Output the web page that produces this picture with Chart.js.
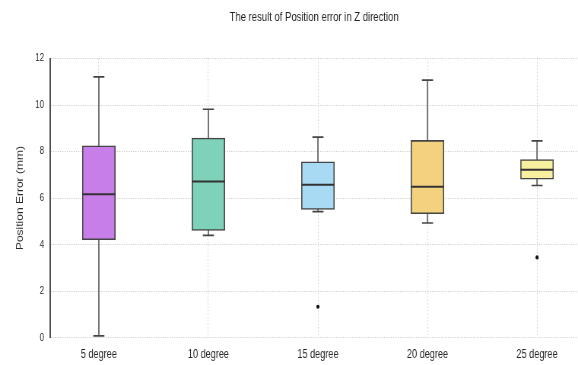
<!DOCTYPE html>
<html>
<head>
<meta charset="utf-8">
<script src="https://cdn.jsdelivr.net/npm/chart.js@4.4.1/dist/chart.umd.min.js"></script>
<style>
  html, body { margin: 0; padding: 0; background: #ffffff; }
  #wrap { width: 578px; height: 365px; overflow: hidden; }
</style>
</head>
<body>
<div id="wrap">
  <!-- drawn 760px wide, shown at 578px: condensed lettering and lines -->
  <canvas id="chart" width="760" height="365" style="width:578px;height:365px"></canvas>
</div>
<script>
// Position error (mm) per tilt angle: five-number summaries and outliers
const categories  = ['5 degree', '10 degree', '15 degree', '20 degree', '25 degree'];
const whiskerLow  = [0.08, 4.40, 5.42, 4.93, 6.54];
const quartile1   = [4.21, 4.61, 5.51, 5.33, 6.81];
const medianValue = [6.17, 6.71, 6.57, 6.49, 7.22];
const quartile3   = [8.25, 8.58, 7.56, 8.48, 7.66];
const whiskerHigh = [11.21, 9.82, 8.62, 11.07, 8.46];
const outliers    = [[], [], [1.33], [], [3.45]];
const yTicks      = { min: 0, max: 12, step: 2 };
const boxColors   = ['#c77ee8', '#7fd2ba', '#a8daf3', '#f3d17f', '#f7f09e'];

const pos = i => i + 1;

const boxData = categories.map((_, i) => ({ x: pos(i), y: [quartile1[i], quartile3[i]] }));
const whiskerData = [];
categories.forEach((_, i) => {
  whiskerData.push({ x: pos(i), y: whiskerLow[i] });
  whiskerData.push({ x: pos(i), y: whiskerHigh[i] });
  whiskerData.push({ x: pos(i), y: null });
});
const capData = [];
categories.forEach((_, i) => {
  capData.push({ x: pos(i), y: whiskerLow[i] });
  capData.push({ x: pos(i), y: whiskerHigh[i] });
});
const medianData = categories.map((_, i) => ({ x: pos(i), y: medianValue[i] }));
const outlierData = [];
outliers.forEach((list, i) => list.forEach(v => outlierData.push({ x: pos(i), y: v })));

const textFont = "'Liberation Sans', Arial, 'DejaVu Sans', sans-serif";

new Chart(document.getElementById('chart'), {
  type: 'bar',
  data: {
    datasets: [
      {
        type: 'line',
        data: whiskerData,
        borderColor: '#747474',
        borderWidth: 2,
        pointRadius: 0,
        spanGaps: false,
        order: 5
      },
      {
        type: 'bar',
        data: boxData,
        backgroundColor: boxColors,
        borderColor: '#454545',
        borderWidth: 1.6,
        borderSkipped: false,
        barThickness: 43.4,
        order: 4
      },
      {
        type: 'scatter',
        data: medianData,
        pointStyle: 'line',
        pointRadius: 21.7,
        borderColor: '#333333',
        borderWidth: 2,
        order: 3
      },
      {
        type: 'scatter',
        data: capData,
        pointStyle: 'line',
        pointRadius: 7.3,
        borderColor: '#444444',
        borderWidth: 1.6,
        order: 2
      },
      {
        type: 'scatter',
        data: outlierData,
        pointStyle: 'circle',
        pointRadius: 2.1,
        backgroundColor: '#111111',
        borderColor: '#111111',
        borderWidth: 0,
        order: 1
      }
    ]
  },
  options: {
    responsive: false,
    devicePixelRatio: 1,
    animation: false,
    events: [],
    layout: { padding: 0, autoPadding: false },
    plugins: {
      legend: { display: false },
      tooltip: { enabled: false },
      title: {
        display: true,
        fullSize: false,
        text: 'The result of Position error in Z direction',
        color: '#222222',
        font: { family: textFont, size: 12.5, weight: 'normal', lineHeight: 1.2 },
        padding: { top: 10, bottom: 33.5 }
      }
    },
    scales: {
      x: {
        type: 'linear',
        min: 0.556,
        max: 5.374,
        offset: false,
        afterFit: s => { s.height = 27.3; s.paddingLeft = 0; s.paddingRight = 0; },
        grid: { color: '#c8c8c8', lineWidth: 1, drawTicks: false, offset: false },
        border: { display: false, dash: [1.2, 2.2] },
        ticks: {
          stepSize: 1,
          includeBounds: false,
          autoSkip: false,
          maxRotation: 0,
          padding: 10,
          color: '#262626',
          font: { family: textFont, size: 12 },
          callback: v => categories[Math.round(v) - 1] ?? ''
        }
      },
      y: {
        min: yTicks.min,
        max: yTicks.max,
        afterFit: s => { s.width = 66; s.paddingTop = 0; s.paddingBottom = 0; },
        grid: { color: '#cacaca', lineWidth: 1, drawTicks: false },
        border: { display: true, color: '#505050', width: 2, dash: [1.3, 1.7] },
        ticks: {
          stepSize: yTicks.step,
          padding: 8,
          color: '#262626',
          font: { family: textFont, size: 10.5 }
        },
        title: {
          display: true,
          text: 'Position Error (mm)',
          color: '#2a2a2a',
          font: { family: textFont, size: 12, lineHeight: 1.2 },
          padding: { top: 19, bottom: 0 }
        }
      }
    }
  }
});
</script>
</body>
</html>
